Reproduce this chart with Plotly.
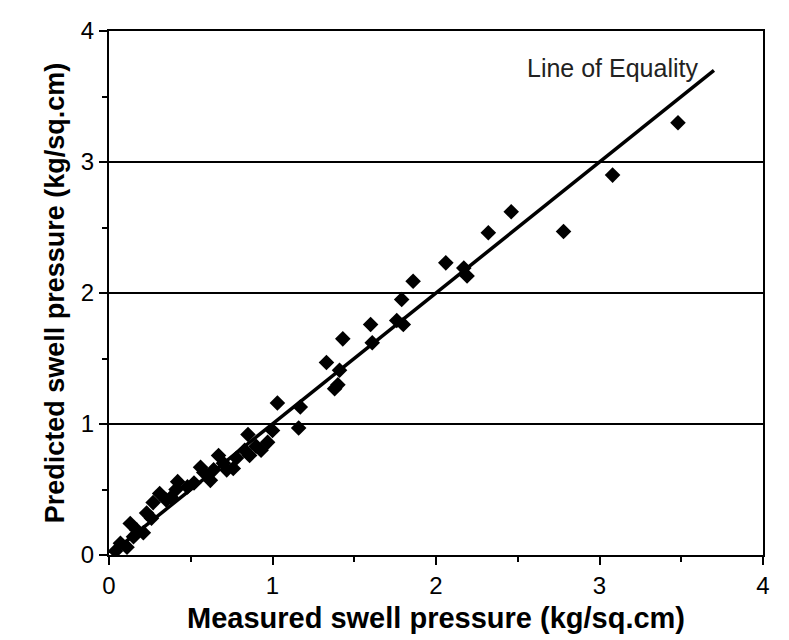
import plotly.graph_objects as go

# measured vs predicted swell pressure (kg/sq.cm)
measured = [
    0.04, 0.07, 0.11, 0.13, 0.15, 0.17, 0.21, 0.23, 0.26, 0.27,
    0.31, 0.35, 0.38, 0.41, 0.42, 0.48, 0.52, 0.56, 0.58, 0.62,
    0.64, 0.67, 0.70, 0.72, 0.76, 0.78, 0.83, 0.85, 0.86, 0.90,
    0.93, 0.97, 1.00, 1.03, 1.16, 1.17, 1.33, 1.38, 1.40, 1.41,
    1.43, 1.60, 1.61, 1.76, 1.80, 1.79, 1.86, 2.06, 2.17, 2.19,
    2.32, 2.46, 2.78, 3.08, 3.48,
]
predicted = [
    0.03, 0.09, 0.06, 0.24, 0.14, 0.19, 0.17, 0.32, 0.28, 0.40,
    0.47, 0.42, 0.44, 0.50, 0.56, 0.52, 0.55, 0.67, 0.63, 0.57,
    0.65, 0.76, 0.70, 0.65, 0.66, 0.74, 0.80, 0.92, 0.76, 0.83,
    0.80, 0.86, 0.95, 1.16, 0.97, 1.13, 1.47, 1.27, 1.30, 1.41,
    1.65, 1.76, 1.62, 1.79, 1.76, 1.95, 2.09, 2.23, 2.19, 2.13,
    2.46, 2.62, 2.47, 2.90, 3.30,
]

# line of equality end points
equality = [0.03, 3.7]

axis_ticks = [0, 1, 2, 3, 4]

fig = go.Figure()

fig.add_trace(go.Scatter(
    x=equality, y=equality,
    mode="lines",
    line=dict(color="black", width=3.5),
    showlegend=False,
))

fig.add_trace(go.Scatter(
    x=measured, y=predicted,
    mode="markers",
    marker=dict(symbol="diamond", size=12, color="black"),
    showlegend=False,
))

fig.add_annotation(
    x=3.08, y=3.72, text="Line of Equality",
    showarrow=False,
    font=dict(family="Liberation Sans, Arial", size=25, color="#222"),
)

axis_style = dict(
    range=[0, 4],
    tickvals=axis_ticks,
    showline=True, linecolor="black", linewidth=2, mirror=True,
    ticks="outside", ticklen=8, tickwidth=2, tickcolor="black",
    minor=dict(dtick=0.5, ticks="outside", ticklen=5, tickwidth=2, tickcolor="black"),
    tickfont=dict(family="Liberation Sans, Arial", size=24, color="black"),
    zeroline=False,
    automargin=False,
)

fig.update_xaxes(
    **axis_style,
    showgrid=False,
    title=dict(text="<b>Measured swell pressure (kg/sq.cm)</b>",
               font=dict(family="Liberation Sans, Arial", size=29, color="black"),
               standoff=10),
)
fig.update_yaxes(
    **axis_style,
    showgrid=True, gridcolor="black", gridwidth=2,
    title=dict(text="<b>Predicted swell pressure (kg/sq.cm)</b>",
               font=dict(family="Liberation Sans, Arial", size=27, color="black"),
               standoff=8),
)

# the page body adds an 8px offset, so margins are shifted to compensate
fig.update_layout(
    width=789, height=640,
    margin=dict(l=101, r=34, t=23, b=93),
    paper_bgcolor="white",
    plot_bgcolor="white",
)

fig.write_html("out.html")
